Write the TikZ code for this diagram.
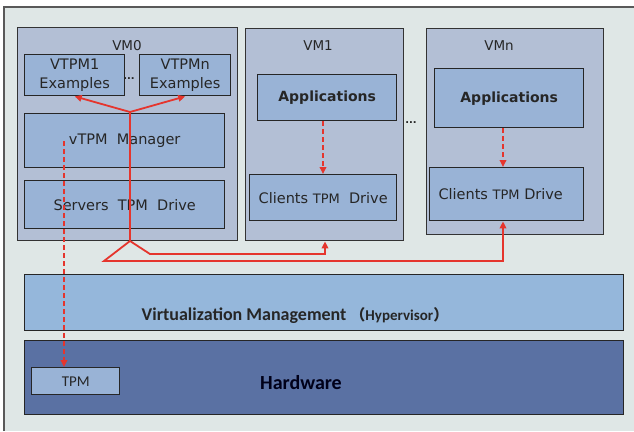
\documentclass[tikz,border=0pt]{standalone}
\usepackage{fontspec}
\setmainfont{DejaVu Sans}
\newfontfamily\carl{Carlito}
\newfontfamily\cjkfont{Noto Sans CJK SC}
\usetikzlibrary{arrows.meta}
\definecolor{bgcol}{HTML}{DFE7E6}
\definecolor{vmcol}{HTML}{B3BFD5}
\definecolor{boxcol}{HTML}{99B3D6}
\definecolor{hypcol}{HTML}{95B7DB}
\definecolor{hwcol}{HTML}{5A71A3}
\definecolor{redcol}{HTML}{E5352D}
\definecolor{txtcol}{HTML}{262626}
\tikzset{
  redline/.style = {draw = redcol, line width = 1.8pt},
  redarrow/.style = {redline, -{Triangle[length = 7pt, width = 6.5pt]}},
  reddash/.style = {redarrow, dash pattern = on 5pt off 3pt}
}

\begin{document}
\begin{tikzpicture}[x = 1pt, y = -1pt, every node/.style = {inner sep = 0pt, text = txtcol},
    vmbox/.style = {draw = black!80, line width = 1.4pt, fill = vmcol, anchor = north west},
    box/.style = {draw = black!85, line width = 1.4pt, fill = boxcol, anchor = north west, align = center,
        font = \fontsize{14.5}{19}\selectfont},
    bar/.style = {draw = black!85, line width = 1.4pt, anchor = north west, minimum width = 599pt}]
            \useasboundingbox (0,0) rectangle (634,431);
            \fill[bgcol] (4,7) rectangle (634,431);
            \draw[black!65, line width = 1.4pt] (4,431) -- (4,7) -- (634,7);

            \node[vmbox, minimum width = 220pt, minimum height = 213pt] (vm0) at (17,27) {};
            \node[vmbox, minimum width = 158pt, minimum height = 212pt] (vm1) at (245,28) {};
            \node[vmbox, minimum width = 177pt, minimum height = 206pt] (vmn) at (426,28) {};
            \node[font = \fontsize{13.5}{16}\selectfont] (vm0lbl) at (127,46) {VM0};
            \node[font = \fontsize{13.5}{16}\selectfont] (vm1lbl) at (318,46) {VM1};
            \node[font = \fontsize{13.5}{16}\selectfont] (vmnlbl) at (499,46) {VMn};

            \node[box, minimum width = 100pt, minimum height = 41pt] (vtpm1) at (24,54) {VTPM1\\Examples};
            \node[box, minimum width = 91pt, minimum height = 41pt] (vtpmn) at (139,54) {VTPMn\\Examples};
            \node[font = \bfseries\fontsize{10}{10}\selectfont] (dots0) at (129,79) {...};
            \node[box, minimum width = 200pt, minimum height = 54pt] (mgr) at (24,113) {vTPM\ \ Manager};
            \node[box, minimum width = 200pt, minimum height = 48pt] (srv) at (24,180) {Servers\ \ TPM\ \ Drive};

            \node[box, minimum width = 139pt, minimum height = 46pt, font = \bfseries\fontsize{14}{18}\selectfont] (app1) at (257,74) {Applications};
            \node[box, minimum width = 147pt, minimum height = 46pt] (cli1) at (249,174) {Clients {\fontsize{13}{16}\selectfont TPM}\ \ Drive};
            \node[font = \bfseries\fontsize{10}{10}\selectfont] (dots1) at (411,123) {...};
            \node[box, minimum width = 149pt, minimum height = 59pt, font = \bfseries\fontsize{14}{18}\selectfont] (appn) at (434,68) {Applications};
            \node[box, minimum width = 154pt, minimum height = 53pt] (clin) at (429,167) {Clients {\fontsize{13}{16}\selectfont TPM} Drive\hspace{12pt}};

            \node[bar, fill = hypcol, minimum height = 56pt] (hyp) at (24,274) {};
            \node[font = \carl\bfseries\fontsize{18}{22}\selectfont] (hyplbl) at (295,316)
                {Virtualization Management {\fontsize{15}{18}\selectfont\cjkfont （}{\fontsize{15}{18}\selectfont Hypervisor}{\fontsize{15}{18}\selectfont\cjkfont ）}};
            \node[bar, fill = hwcol, minimum height = 74pt] (hw) at (24,340) {};
            \node[font = \carl\bfseries\fontsize{20}{24}\selectfont, text = black!90!blue] (hwlbl) at (301,383) {Hardware};
            \node[box, minimum width = 88pt, minimum height = 27pt, font = \carl\fontsize{15}{18}\selectfont] (tpm) at (31,367) {TPM};

            \coordinate (fk0) at (130,112);
            \coordinate (fk1) at (130,241);
            \coordinate (bl) at (104,261);
            \coordinate (br) at (150,254);
            \coordinate (up1) at (325,0);
            \coordinate (upn) at (503,0);
            \coordinate (dt) at (64,141);
            \coordinate (d1) at (323,0);
            \coordinate (dn) at (503,0);

            \draw[redline] (fk0) -- (fk1);
            \draw[redarrow] (fk0) -- (vtpm1.south);
            \draw[redarrow] (fk0) -- (vtpmn.south);
            \draw[redarrow] (fk1) -- (br) -- (br -| up1) -- (vm1.south -| up1);
            \draw[redarrow] (fk1) -- (bl) -- (bl -| upn) -- (clin.south -| upn);
            \draw[reddash] (dt) -- (dt |- tpm.north);
            \draw[reddash] (app1.south -| d1) -- (cli1.north -| d1);
            \draw[reddash] (appn.south -| dn) -- (clin.north -| dn);
        \end{tikzpicture}
\end{document}
